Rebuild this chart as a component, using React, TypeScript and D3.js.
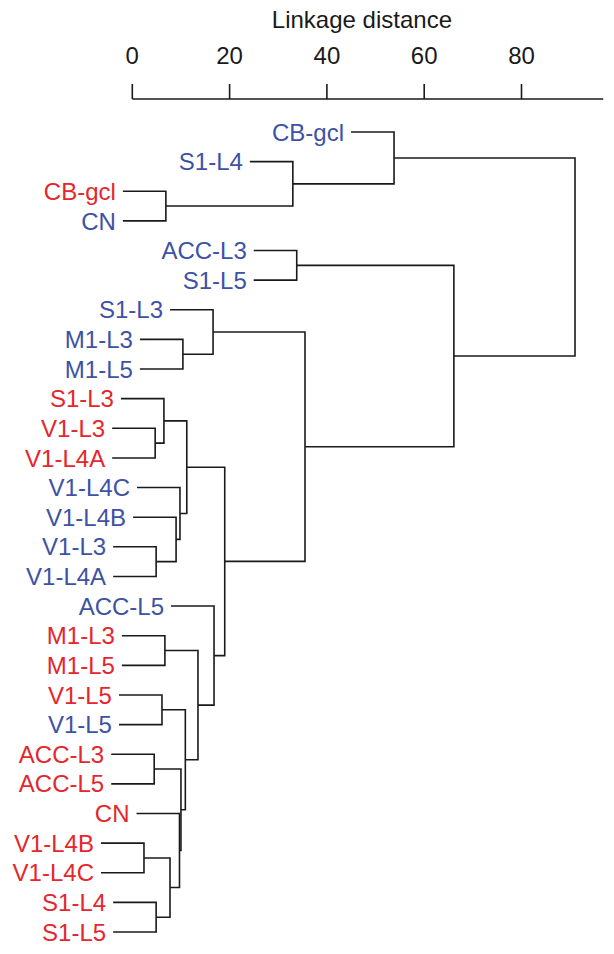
import React from "react";
import * as d3 from "d3";

// Leaves in display order (top to bottom)
const leafNames = [
  "CB-gcl", "S1-L4", "CB-gcl", "CN", "ACC-L3", "S1-L5", "S1-L3", "M1-L3", "M1-L5",
  "S1-L3", "V1-L3", "V1-L4A", "V1-L4C", "V1-L4B", "V1-L3", "V1-L4A", "ACC-L5",
  "M1-L3", "M1-L5", "V1-L5", "V1-L5", "ACC-L3", "ACC-L5", "CN", "V1-L4B", "V1-L4C",
  "S1-L4", "S1-L5",
];
const leafGroup = [
  "B", "B", "R", "B", "B", "B", "B", "B", "B",
  "R", "R", "R", "B", "B", "B", "B", "B",
  "R", "R", "R", "B", "R", "R", "R", "R", "R",
  "R", "R",
];

// Linkage: [childA, childB, distance]; ids >= 28 refer to earlier merges (28 + row)
const linkA = [24, 21, 10, 14, 26, 19, 9, 17, 2, 28, 13, 23, 12, 29, 7, 33, 34, 35, 6, 16, 44, 1, 4, 46, 0, 50, 52];
const linkB = [25, 22, 11, 15, 27, 20, 30, 18, 3, 32, 31, 37, 38, 39, 8, 41, 40, 43, 42, 45, 47, 36, 5, 48, 49, 51, 53];
const linkDist = [2.4, 4.5, 4.7, 4.9, 4.9, 6.1, 6.5, 6.7, 6.9, 7.75, 9.0, 9.7, 9.8, 10.0, 10.4, 10.9, 11.2, 13.5, 16.6, 16.8, 19.0, 33.0, 33.8, 35.5, 53.8, 66.1, 91.0];

const tickValues = [0, 20, 40, 60, 80];
const axisMax = 96.8;
const titleCenter = 47.2;
const axisTitle = "Linkage distance";

const W = 614;
const H = 954;
const RED = "#e5262c";
const BLUE = "#3d52a4";
const INK = "#1a1a1a";
const FONT = "Arial, 'Liberation Sans', Helvetica, sans-serif";
const LEAF_LEN = 43;

export default function App() {
  const n = leafNames.length;
  const x = d3.scaleLinear().domain([0, 80]).range([132.3, 521.5]);
  const y = d3.scalePoint<number>().domain(d3.range(n)).range([132, 932]);

  const nodeY: number[] = leafNames.map((_, i) => y(i) as number);
  const nodeX: number[] = leafNames.map(() => NaN);

  linkA.forEach((a, k) => {
    const b = linkB[k];
    const id = n + k;
    nodeY[id] = (nodeY[a] + nodeY[b]) / 2;
    nodeX[id] = x(linkDist[k]);
    [a, b].forEach((c) => {
      if (c < n) {
        nodeX[c] = nodeX[id] - LEAF_LEN;
      }
    });
  });

  const paths = linkA.map((a, k) => {
    const b = linkB[k];
    const id = n + k;
    const xp = nodeX[id];
    const p = d3.path();
    p.moveTo(nodeX[a], nodeY[a]);
    p.lineTo(xp, nodeY[a]);
    p.lineTo(xp, nodeY[b]);
    p.lineTo(nodeX[b], nodeY[b]);
    return p.toString();
  });

  const axisY = 99;

  return (
    <div style={{ position: "absolute", left: 0, top: 0 }}>
      <svg width={W} height={H} style={{ display: "block", background: "#fff" }} fontFamily={FONT}>
        <text x={x(titleCenter)} y={28} fontSize={24} textAnchor="middle" fill={INK}>
          {axisTitle}
        </text>
        <line x1={x(0)} x2={x(axisMax)} y1={axisY} y2={axisY} stroke={INK} strokeWidth={1.6} />
        {tickValues.map((t) => (
          <g key={t}>
            <line x1={x(t)} x2={x(t)} y1={axisY} y2={axisY - 15} stroke={INK} strokeWidth={1.6} />
            <text x={x(t)} y={64} fontSize={24} textAnchor="middle" fill={INK}>
              {t}
            </text>
          </g>
        ))}
        <g fill="none" stroke={INK} strokeWidth={1.6}>
          {paths.map((d, i) => (
            <path key={i} d={d} />
          ))}
        </g>
        {leafNames.map((name, i) => (
          <text
            key={i}
            x={nodeX[i] - 7}
            y={nodeY[i]}
            dy="0.36em"
            fontSize={24}
            textAnchor="end"
            fill={leafGroup[i] === "R" ? RED : BLUE}
          >
            {name}
          </text>
        ))}
      </svg>
    </div>
  );
}
